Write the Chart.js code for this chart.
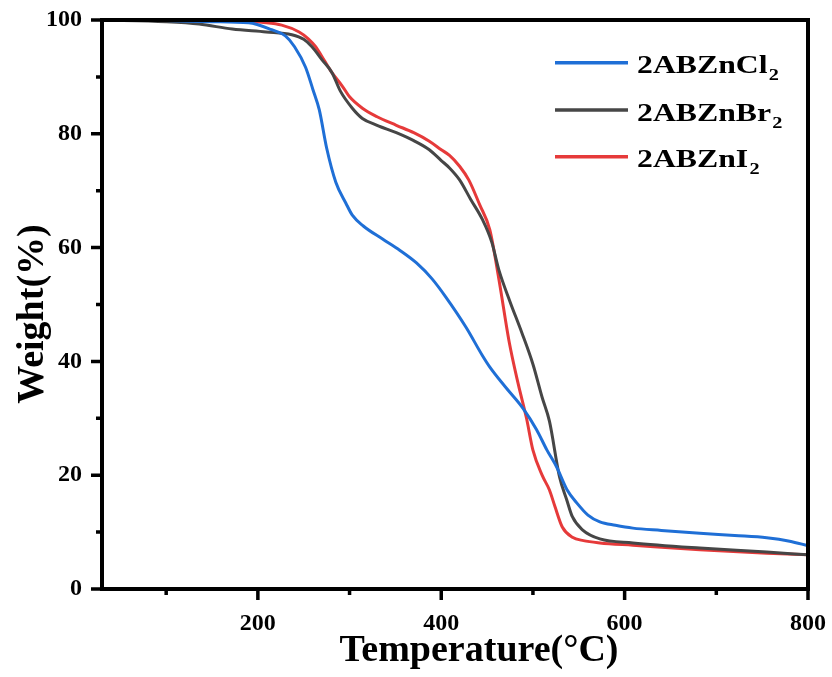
<!DOCTYPE html>
<html><head><meta charset="utf-8">
<script src="https://cdn.jsdelivr.net/npm/chart.js@4.4.0/dist/chart.umd.min.js"></script>
<style>html,body{margin:0;padding:0;background:#fff;}#wrap{width:832px;height:677px;}</style>
</head><body><div id="wrap"><canvas id="c" width="832" height="677"></canvas></div>
<script>
// ---- data ----
const seriesNames = ['2ABZnCl', '2ABZnBr', '2ABZnI'];
const seriesSubs = ['2', '2', '2'];
const seriesColors = ['#1f6fd6', '#464646', '#e63a3a'];

const clTemp   = [30, 100, 150, 190, 215, 230, 240, 252, 260, 267, 275, 285, 296, 303, 315, 336, 355, 373, 390, 405, 427, 445, 453, 470, 489, 504, 515, 526, 537, 548, 560, 573, 590, 609, 640, 682, 720, 755, 780, 800];
const clWeight = [100, 99.9, 99.7, 99.5, 98.3, 97.2, 95.3, 91.7, 87.8, 84.2, 77.5, 71.5, 67.8, 65.7, 63.8, 61.5, 59.5, 57.3, 54.5, 51.3, 46, 41, 39, 35.5, 31.8, 28, 24.5, 21.4, 17.5, 15.1, 13, 11.8, 11.2, 10.7, 10.3, 9.8, 9.4, 9.0, 8.4, 7.6];

const brTemp   = [30, 100, 136, 172, 209, 237, 250, 259, 270, 281, 290, 303, 314, 330, 351, 370, 387, 400, 409, 420, 432, 445, 455, 463, 475, 488, 500, 510, 518, 529, 537, 543, 554, 573, 609, 682, 755, 800];
const brWeight = [100, 99.7, 99.3, 98.4, 97.9, 97.4, 96.6, 95.3, 93, 90.7, 87.5, 84.5, 82.7, 81.5, 80.2, 78.8, 77.2, 75.3, 74, 71.9, 68.5, 64.9, 61, 56, 50.5, 45, 39.5, 33.7, 29.5, 19.7, 15.6, 12.7, 10.4, 8.8, 8.1, 7.2, 6.5, 6.0];

const iTemp    = [30, 100, 150, 190, 204, 226, 245, 255, 263, 272, 281, 292, 300, 314, 330, 351, 370, 387, 400, 409, 420, 430, 442, 453, 463, 474, 484, 493, 500, 510, 518, 524, 532, 543, 555, 573, 609, 682, 755, 800];
const iWeight  = [100, 100, 100, 99.8, 99.6, 99.1, 97.9, 96.7, 95.3, 93, 90.7, 88.4, 86.5, 84.5, 83, 81.5, 80.2, 78.7, 77.2, 76.2, 74.3, 71.9, 67.5, 63.1, 54.3, 43.5, 36, 30, 24.4, 20, 17.4, 14.5, 10.9, 9.1, 8.5, 8.1, 7.7, 6.9, 6.3, 6.0];

const xMajorTicks = [200, 400, 600, 800];
const xMinorTicks = [100, 300, 500, 700];
const yMajorTicks = [0, 20, 40, 60, 80, 100];
const yMinorTicks = [10, 30, 50, 70, 90];
const xTitle = 'Temperature(°C)';
const yTitle = 'Weight(%)';

const FONT = "'Liberation Serif', 'Times New Roman', serif";

function pts(t, w) { return t.map((v, i) => ({ x: v, y: w[i] })); }

const seriesData = [pts(clTemp, clWeight), pts(brTemp, brWeight), pts(iTemp, iWeight)];

const frameAndLegend = {
  id: 'frameAndLegend',
  afterDraw(chart) {
    const ctx = chart.ctx;
    const a = chart.chartArea;
    const xs = chart.scales.x, ys = chart.scales.y;
    ctx.save();
    ctx.strokeStyle = '#000';
    ctx.lineWidth = 4;
    ctx.lineCap = 'square';
    ctx.strokeRect(a.left, a.top, a.right - a.left, a.bottom - a.top);
    ctx.lineCap = 'butt';
    ctx.lineWidth = 3.5;
    ctx.beginPath();
    xMajorTicks.forEach(v => { const p = xs.getPixelForValue(v); ctx.moveTo(p, a.bottom); ctx.lineTo(p, a.bottom + 11); });
    xMinorTicks.forEach(v => { const p = xs.getPixelForValue(v); ctx.moveTo(p, a.bottom); ctx.lineTo(p, a.bottom + 6); });
    yMajorTicks.forEach(v => { const p = ys.getPixelForValue(v); ctx.moveTo(a.left, p); ctx.lineTo(a.left - 11, p); });
    yMinorTicks.forEach(v => { const p = ys.getPixelForValue(v); ctx.moveTo(a.left, p); ctx.lineTo(a.left - 6, p); });
    ctx.stroke();

    // axis titles
    ctx.fillStyle = '#000';
    ctx.font = 'bold 38px ' + FONT;
    ctx.textAlign = 'center';
    ctx.textBaseline = 'alphabetic';
    ctx.fillText(xTitle, 479, 661);
    ctx.save();
    ctx.translate(43, 314);
    ctx.rotate(-Math.PI / 2);
    ctx.fillText(yTitle, 0, 0);
    ctx.restore();

    // legend
    const rows = [62.7, 110, 156.7];
    chart.data.datasets.forEach((ds, i) => {
      const y = rows[i];
      ctx.strokeStyle = ds.borderColor;
      ctx.lineWidth = 3.5;
      ctx.beginPath();
      ctx.moveTo(555, y); ctx.lineTo(628, y);
      ctx.stroke();
      ctx.fillStyle = '#000';
      ctx.textAlign = 'left';
      ctx.font = 'bold 25px ' + FONT;
      ctx.save();
      ctx.translate(637, y + 10.5);
      ctx.scale(1.27, 1);
      ctx.fillText(seriesNames[i], 0, 0);
      const w = ctx.measureText(seriesNames[i]).width;
      ctx.font = 'bold 16px ' + FONT;
      ctx.fillText(seriesSubs[i], w + 1, 7);
      ctx.restore();
    });
    ctx.restore();
  }
};

new Chart(document.getElementById('c'), {
  type: 'line',
  data: {
    datasets: seriesNames.map((n, i) => ({
      label: n + seriesSubs[i],
      data: seriesData[i],
      borderColor: seriesColors[i],
      backgroundColor: seriesColors[i],
      borderWidth: 3,
      pointRadius: 0,
      fill: false,
      cubicInterpolationMode: 'monotone'
    }))
  },
  options: {
    responsive: false,
    animation: false,
    devicePixelRatio: 1,
    layout: { padding: { top: 20, right: 24, left: 0, bottom: 0 } },
    plugins: { legend: { display: false }, tooltip: { enabled: false } },
    scales: {
      x: {
        type: 'linear', min: 30, max: 800,
        afterBuildTicks: s => { s.ticks = xMajorTicks.map(v => ({ value: v })); },
        afterFit: s => { s.height = 88; s.paddingLeft = 0; s.paddingRight = 0; },
        grid: { display: true, drawOnChartArea: false, drawTicks: false, color: 'rgba(0,0,0,0)' },
        border: { display: false },
        ticks: { color: '#000', font: { family: FONT, size: 24, weight: 'bold' }, padding: 20, maxRotation: 0, autoSkip: false }
      },
      y: {
        type: 'linear', min: 0, max: 100,
        afterBuildTicks: s => { s.ticks = yMajorTicks.map(v => ({ value: v })); },
        afterFit: s => { s.width = 102; s.paddingTop = 0; s.paddingBottom = 0; },
        grid: { display: true, drawOnChartArea: false, drawTicks: false, color: 'rgba(0,0,0,0)' },
        border: { display: false },
        ticks: { color: '#000', font: { family: FONT, size: 24, weight: 'bold' }, padding: 20, autoSkip: false }
      }
    }
  },
  plugins: [frameAndLegend]
});
</script></body></html>
